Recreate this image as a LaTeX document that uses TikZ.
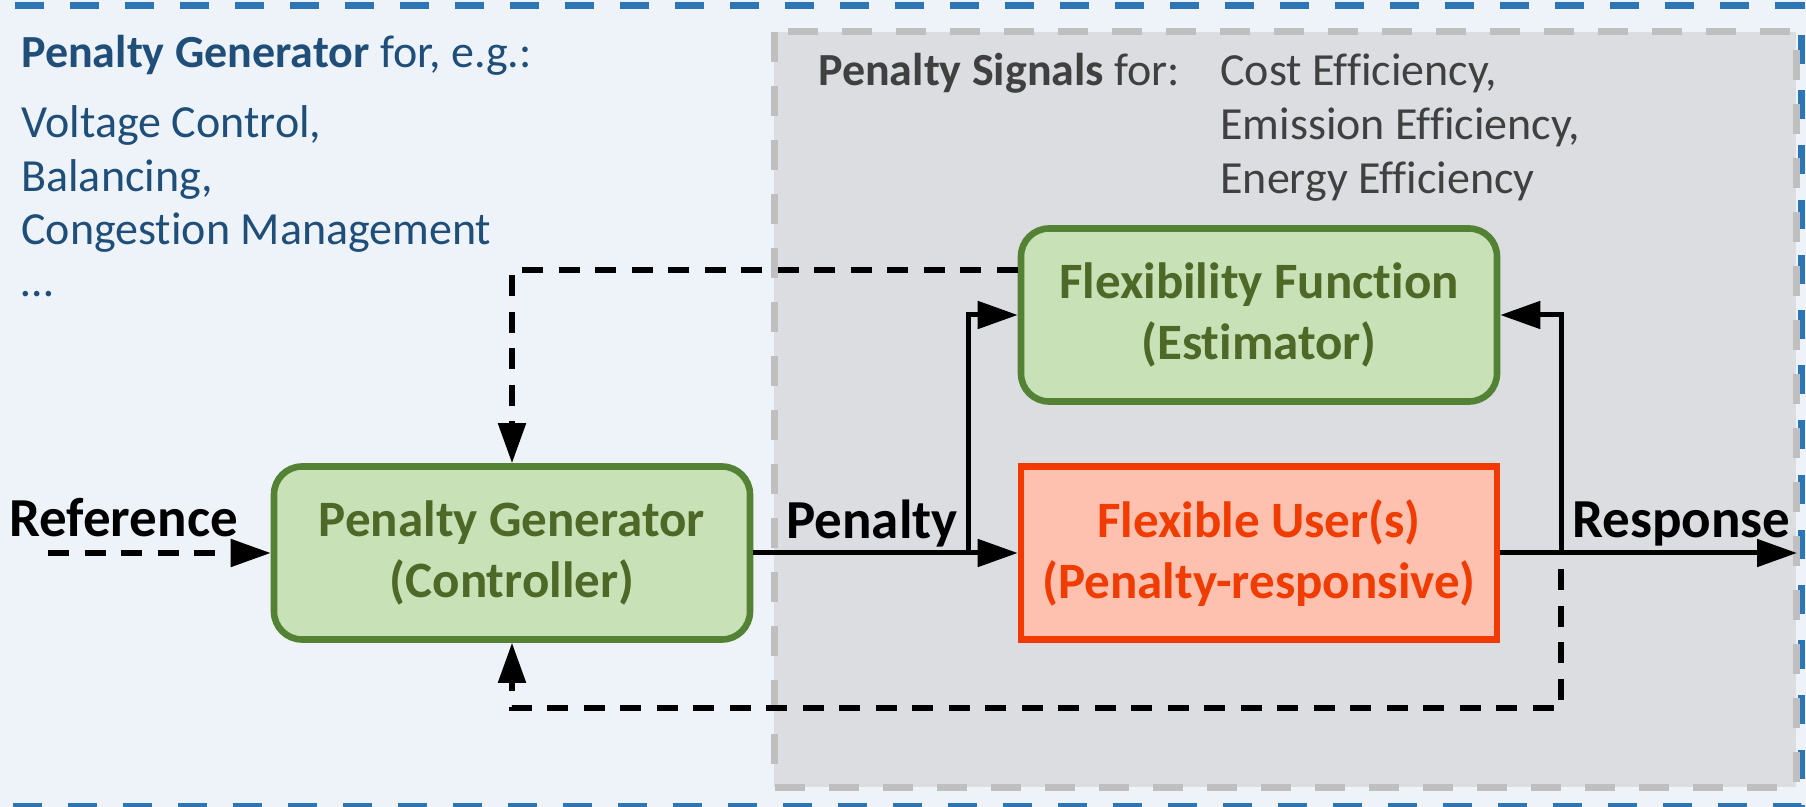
\documentclass[tikz,border=0pt]{standalone}
\usepackage{fontspec}
\setmainfont{Carlito}[Ligatures=NoCommon]
\usetikzlibrary{arrows.meta}
\definecolor{bgblue}{HTML}{EEF3FA}
\definecolor{frameblue}{HTML}{2E75B6}
\definecolor{graybg}{HTML}{DCDDE1}
\definecolor{graydash}{HTML}{BFBFBF}
\definecolor{textblue}{HTML}{1F4E79}
\definecolor{textgray}{HTML}{404040}
\definecolor{greenfill}{HTML}{C9E1B7}
\definecolor{greenline}{HTML}{548235}
\definecolor{greentext}{HTML}{4E6827}
\definecolor{redfill}{HTML}{FFC1AF}
\definecolor{redline}{HTML}{F23A00}
\definecolor{redtext}{HTML}{F03C00}
\tikzset{
  tip/.style={-{Triangle[length=20pt,width=13.5pt]}},
  solidline/.style={line width=2.5pt, draw=black},
  dashline/.style={line width=2.6pt, draw=black, dash pattern=on 10.5pt off 7.75pt},
  boxtext/.style={font=\fontsize{25.5}{30.5}\selectfont\bfseries, align=center, inner sep=0pt,
    minimum width=238pt, minimum height=86.5pt, line width=3.3pt},
  greenbox/.style={boxtext, draw=greenline, fill=greenfill, rounded corners=14pt, text=greentext},
  redbox/.style={boxtext, draw=redline, fill=redfill, text=redtext},
  toptext/.style={anchor=base west, inner sep=0pt, font=\fontsize{23}{27}\selectfont},
  lbl/.style={anchor=base west, inner sep=0pt, font=\fontsize{27.5}{33}\selectfont\bfseries}
}
\begin{document}
\begin{tikzpicture}[x=0.5pt,y=-0.5pt]
\useasboundingbox (0,0) rectangle (1806,807);
\clip (0,0) rectangle (1806,807);
\fill[bgblue] (0,0) rectangle (1806,807);
\draw[frameblue, line width=3.5pt, dash pattern=on 14.5pt off 13pt] (-40,6) -- (1801,6) -- (1801,806) -- (-40,806);
\draw[graydash, fill=graybg, line width=3.5pt, dash pattern=on 15pt off 12pt] (774,32) rectangle (1796,787);

% top-left texts
\node[toptext, text=textblue] (pg) at (21,68) {\textbf{Penalty Generator} for, e.g.:};
\node[toptext, text=textblue] (vc) at (21,138) {Voltage Control,};
\node[toptext, text=textblue] (bal) at (21,192) {Balancing,};
\node[toptext, text=textblue] (cm) at (21,245) {Congestion Management};
\node[toptext, text=textblue] (dots) at (21,297) {…};

% top-right texts
\node[toptext, text=textgray] (ps) at (818,86) {\textbf{Penalty Signals} for:};
\node[toptext, text=textgray] (ce) at (1220,86) {Cost Efficiency,};
\node[toptext, text=textgray] (ee) at (1220,140) {Emission Efficiency,};
\node[toptext, text=textgray] (ne) at (1220,194) {Energy Efficiency};

% boxes
\node[greenbox] (gen) at (512,553) {Penalty Generator\\(Controller)};
\node[greenbox] (ff) at (1259,315) {Flexibility Function\\(Estimator)};
\node[redbox] (fu) at (1259,553) {Flexible User(s)\\(Penalty-responsive)};

% labels
\node[lbl] (reflbl) at (9,537) {Reference};
\node[lbl] (penlbl) at (786,539) {Penalty};
\node[lbl] (reslbl) at (1572,538) {Response};

% coordinates
\coordinate (refin) at (48,553);
\coordinate (pb) at (968,553);
\coordinate (rb) at (1561,553);
\coordinate (out) at (1797,553);
\coordinate (fb) at (1561,708);

% connectors
\draw[dashline,tip] (refin) -- (gen.west);
\draw[solidline,tip] (gen.east) -- (fu.west);
\draw[solidline,tip] (pb) |- (ff.west);
\draw[solidline,tip] (fu.east) -- (out);
\draw[solidline,tip] (rb) |- (ff.east);
\draw[dashline,tip,dash phase=10pt] (rb) -- (fb) -| (gen.south);
\draw[dashline,tip] ([yshift=22.5pt]ff.west) -| (gen.north);
\end{tikzpicture}
\end{document}
